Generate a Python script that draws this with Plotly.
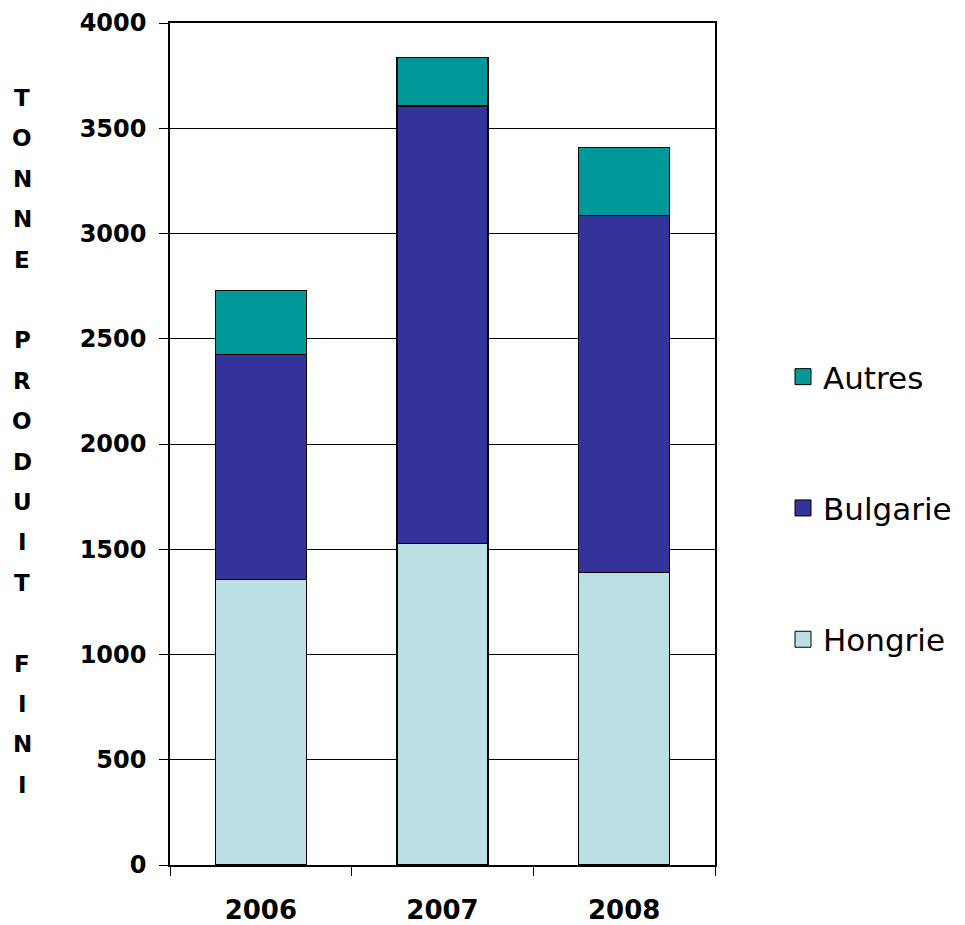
import plotly.graph_objects as go

years = ["2006", "2007", "2008"]
hongrie = [1355, 1527, 1388]
bulgarie = [1072, 2079, 1696]
autres = [304, 231, 324]
y_ticks = [0, 500, 1000, 1500, 2000, 2500, 3000, 3500, 4000]
title_letters = list("TONNE") + [""] + list("PRODUIT") + [""] + list("FINI")

BOLD = "DejaVu Sans, Arial, sans-serif"
LEG = "DejaVu Sans, Arial, sans-serif"

fig = go.Figure()
series = [("Hongrie", hongrie, "#BBE0E3"), ("Bulgarie", bulgarie, "#333399"), ("Autres", autres, "#009999")]
for name, vals, col in series:
    fig.add_trace(go.Bar(
        x=years, y=vals, name=name, showlegend=False,
        marker=dict(color=col, line=dict(color="black", width=1.2)),
    ))
for name, vals, col in series[::-1]:
    fig.add_trace(go.Scatter(
        x=[None], y=[None], mode="markers", name=name, legendgroup=name,
        marker=dict(symbol="square", size=20, color=col, line=dict(color="black", width=1)),
    ))

# page body has an 8px margin; positions below are in screenshot pixels
OFF = 8
W, H = 965 - OFF, 925 - OFF
PL, PR, PT, PB = 170, 715, 23, 865  # target plot box in screenshot pixels
L, T = PL - OFF, PT - OFF
R = (W + OFF) - PR
B = (H + OFF) - PB
pw, ph = PR - PL, PB - PT

annotations = []
for i, ch in enumerate(title_letters):
    if not ch:
        continue
    ypx = 98 + i * 40.4
    annotations.append(dict(
        text=ch, xref="paper", yref="paper", x=(22 - PL) / pw,
        y=(PB - ypx) / ph, xanchor="center", yanchor="middle",
        showarrow=False, font=dict(family=BOLD, size=23, color="black", weight="bold"),
    ))

fig.update_layout(
    width=W, height=H,
    barmode="stack", bargap=0.5,
    plot_bgcolor="white", paper_bgcolor="white",
    margin=dict(l=L, r=R, t=T, b=B, autoexpand=False),
    font=dict(family=BOLD, color="black"),
    annotations=annotations,
    legend=dict(
        traceorder="grouped", x=(783 - PL) / pw, y=(PB - 508) / ph,
        xanchor="left", yanchor="middle",
        font=dict(family=LEG, size=31, color="black"), tracegroupgap=88,
        bgcolor="rgba(0,0,0,0)", itemwidth=30,
    ),
    showlegend=True,
)
fig.update_yaxes(
    range=[0, 4000], tickvals=y_ticks, ticktext=[str(v) for v in y_ticks],
    showgrid=True, gridcolor="black", gridwidth=1,
    showline=True, linecolor="black", linewidth=1.5, mirror=True,
    ticks="outside", ticklen=9, tickcolor="black",
    tickfont=dict(family=BOLD, size=24, color="black", weight="bold"),
    zeroline=False, automargin=False, ticklabelstandoff=8,
)
fig.update_xaxes(
    showline=True, linecolor="black", linewidth=1.5, mirror=True,
    ticks="outside", ticklen=9, tickcolor="black", tickson="boundaries",
    tickfont=dict(family=BOLD, size=26, color="black", weight="bold"),
    ticklabelstandoff=21, automargin=False,
)

fig.write_html("out.html")
